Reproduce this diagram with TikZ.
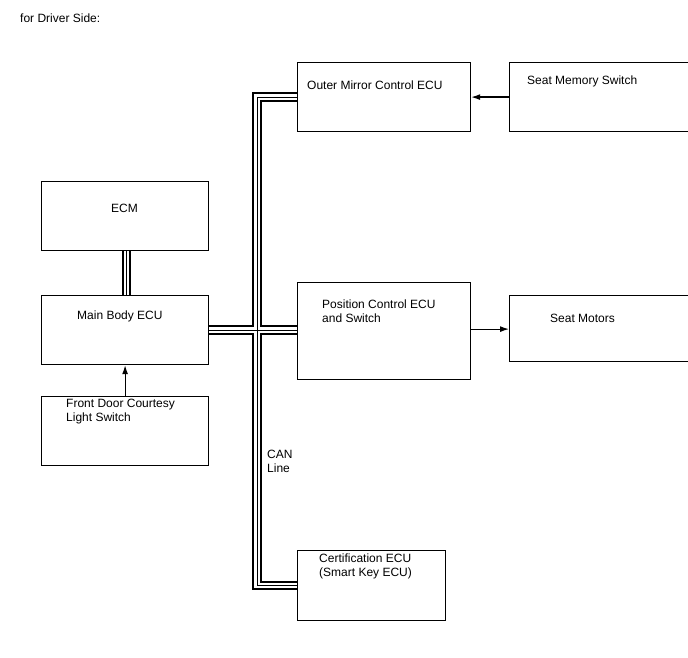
\documentclass[tikz,border=0pt]{standalone}
\usepackage{fontspec}
\setmainfont{Liberation Sans}
\usetikzlibrary{arrows.meta}
\begin{document}
\begin{tikzpicture}[x=1pt,y=-1pt,
  box/.style={draw,line width=1.2pt,inner sep=0pt,anchor=north west},
  txt/.style={anchor=base west,inner sep=0pt,font=\fontsize{12}{14}\selectfont,align=left},
  arr/.style={line width=1.2pt,-{Latex[length=9pt,width=6pt]}},
  busA/.style={line width=9.5pt,line join=miter},
  busB/.style={line width=5.5pt,white,line join=miter},
  busC/.style={line width=1pt,line join=miter}]
\useasboundingbox (0,0) rectangle (688,658);
\node[txt] (title) at (20,23) {for Driver Side:};
% boxes
\node[box,minimum width=167pt,minimum height=69pt] (ecm) at (41,181) {};
\node[box,minimum width=167pt,minimum height=69pt] (main) at (41,295) {};
\node[box,minimum width=167pt,minimum height=69pt] (fd) at (41,396) {};
\node[box,minimum width=173pt,minimum height=69pt] (mirror) at (297,62) {};
\node[box,minimum width=179pt,minimum height=69pt] (memory) at (509,62) {};
\node[box,minimum width=173pt,minimum height=97pt] (pos) at (297,282) {};
\node[box,minimum width=179pt,minimum height=66pt] (motors) at (509,295) {};
\node[box,minimum width=148pt,minimum height=70pt] (cert) at (297,550) {};
% texts (multi-line: base = last line)
\node[txt] (tecm) at (111,212) {ECM};
\node[txt] (tmain) at (77,319) {Main Body ECU};
\node[txt] (tfd) at (66,421) {Front Door Courtesy\\Light Switch};
\node[txt] (tmirror) at (307,90) {Outer Mirror Control ECU};
\node[txt] (tmemory) at (527,85) {Seat Memory Switch};
\node[txt] (tpos) at (322,322) {Position Control ECU\\and Switch};
\node[txt] (tmotors) at (550,322) {Seat Motors};
\node[txt] (tcan) at (267,472) {CAN\\Line};
\node[txt] (tcert) at (319,576) {Certification ECU\\(Smart Key ECU)};
% bus
\coordinate (t) at (257,0);
\foreach \s in {busA,busB,busC}{
  \draw[\s] (mirror.west) -- (t |- mirror.west) -- (t |- cert.west) -- (cert.west);
  \draw[\s] (main.east) -- (pos.west |- main.east);
  \draw[\s] ([xshift=1.5pt]ecm.south) -- ([xshift=1.5pt]main.north);
}
% arrows
\draw[arr] (memory.west) -- (mirror.east);
\draw[arr] ([yshift=2pt]pos.east) -- ([yshift=2pt]motors.west |- pos.east);
\draw[arr] (fd.north) -- (main.south);
\end{tikzpicture}
\end{document}
